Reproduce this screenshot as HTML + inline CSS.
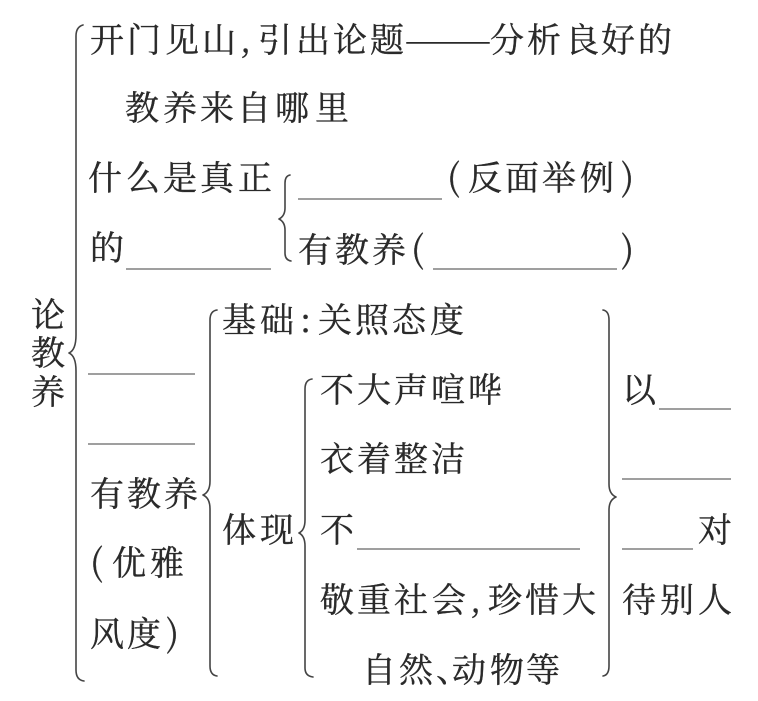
<!DOCTYPE html>
<html lang="zh">
<head>
<meta charset="utf-8">
<style>
html,body{margin:0;padding:0;background:#fff;width:758px;height:701px;overflow:hidden}
svg{display:block}
text{font-family:"Liberation Serif","Noto Serif CJK SC",serif;font-size:34px;fill:#2a2a2a;stroke:#2a2a2a;stroke-width:.35}
.c{font-family:"Noto Serif CJK SC",serif}
.p{font-size:36px;stroke-width:.2}
.d{stroke-width:0}
path{fill:none;stroke:#444;stroke-width:1.6;stroke-linecap:round;stroke-linejoin:round}
line{stroke:#666;stroke-width:1.3}
</style>
</head>
<body>
<svg width="758" height="701" viewBox="0 0 758 701" xmlns="http://www.w3.org/2000/svg">
<!-- braces -->
<path d="M83 25Q76 27 76 36V335Q76 350 69 353Q76 356 76 371V670Q76 680 84 681"/>
<path d="M290 175Q285 176 285 183V208Q285 216 279 219Q285 222 285 230V253Q285 260 291 261"/>
<path d="M217 310Q210 311 210 320V481Q210 492 203 495Q210 498 210 509V666Q210 675 217 676"/>
<path d="M312 379Q305 380 305 389V520Q305 530 299 533Q305 536 305 546V668Q305 676 313 677"/>
<path d="M603 310Q609 311 609 320V484Q609 494 616 497Q609 500 609 510V666Q609 675 603 676"/>
<!-- blanks -->
<line x1="298" y1="199" x2="442" y2="199"/>
<line x1="126" y1="269" x2="271" y2="269"/>
<line x1="433" y1="269" x2="617" y2="269"/>
<line x1="88" y1="374" x2="195" y2="374"/>
<line x1="88" y1="444" x2="195" y2="444"/>
<line x1="357" y1="549" x2="580" y2="549"/>
<line x1="659" y1="409" x2="731" y2="409"/>
<line x1="622" y1="479" x2="731" y2="479"/>
<line x1="622" y1="549" x2="693" y2="549"/>
<!-- text -->
<text class="c" x="90 127 165 202 240 258 296 333 370" y="52">开门见山,引出论题</text>
<text class="c d" x="404" y="52" textLength="88" lengthAdjust="spacingAndGlyphs">——</text>
<text class="c" x="490 527 565 601 638" y="52">分析良好的</text>
<text class="c" x="125 163 200 237 275 315" y="120">教养来自哪里</text>
<text class="c" x="88 126 163 200 238" y="190">什么是真正</text>
<text class="c" x="90" y="260">的</text>
<text class="c p" x="447" y="190">(</text>
<text class="c" x="468 505 542 580" y="190">反面举例</text>
<text class="c p" x="621" y="190">)</text>
<text class="c" x="298 335 372" y="262">有教养</text>
<text class="c p" x="411" y="262">(</text>
<text class="c p" x="621" y="262">)</text>
<text class="c" x="31" y="327">论</text>
<text class="c" x="31" y="365">教</text>
<text class="c" x="31" y="404">养</text>
<text class="c" x="222 260 300 318 355 392 430" y="332">基础:关照态度</text>
<text class="c" x="320 357 394 431 468" y="402">不大声喧哗</text>
<text class="c" x="320 357 394 431" y="471">衣着整洁</text>
<text class="c" x="320" y="542">不</text>
<text class="c" x="320 357 394 432 470 488 525 562" y="612">敬重社会,珍惜大</text>
<text class="c" x="362 399 436 452 490 526" y="682">自然、动物等</text>
<text class="c" x="90 127 164" y="506">有教养</text>
<text class="c p" x="90" y="575">(</text>
<text class="c" x="112 150" y="575">优雅</text>
<text class="c" x="90 127" y="646">风度</text>
<text class="c p" x="166" y="646">)</text>
<text class="c" x="222 260" y="542">体现</text>
<text class="c" x="622" y="402">以</text>
<text class="c" x="698" y="542">对</text>
<text class="c" x="622 660 698" y="612">待别人</text>
</svg>
</body>
</html>
